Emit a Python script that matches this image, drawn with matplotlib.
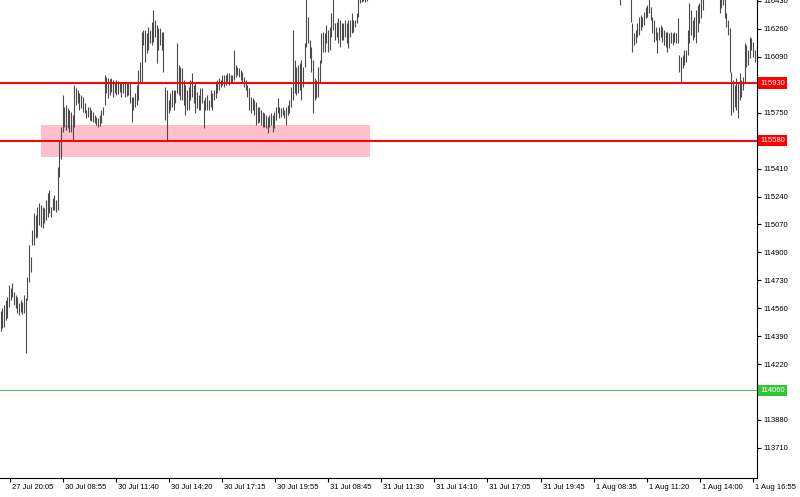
import numpy as np
import matplotlib.pyplot as plt
import matplotlib.transforms as mtransforms
from matplotlib.patches import Rectangle

plt.rcParams['font.family'] = ['Liberation Sans', 'DejaVu Sans']

# barras de 5 minutos: primer tramo (27 Jul - 31 Jul)
a_high = [114545, 114560, 114580, 114610, 114630, 114700, 114685, 114715, 114660, 114640,
          114630, 114590, 114610, 114600, 114640, 114625, 114750, 114945, 114870, 115035,
          115140, 115130, 115175, 115200, 115190, 115175, 115170, 115220, 115260, 115280,
          115175, 115230, 115250, 115220, 115420, 115585, 115665, 115860, 115785, 115795,
          115780, 115765, 115755, 115735, 115920, 115900, 115890, 115870, 115860, 115845,
          115810, 115765, 115785, 115785, 115765, 115755, 115735, 115725, 115720, 115735,
          115765, 115785, 115980, 115965, 115960, 115955, 115960, 115950, 115935, 115950,
          115945, 115935, 115935, 115935, 115935, 115930, 115935, 115930, 115845, 115845,
          115870, 115920, 116010, 116060, 116240, 116255, 116255, 116235, 116270, 116255,
          116300, 116375, 116315, 116285, 116265, 116265, 116240, 116240, 115905, 115890,
          115825, 115870, 115890, 115890, 115890, 116175, 116040, 116030, 116020, 115950,
          115920, 115890, 115905, 115950, 115990, 115920, 115930, 115875, 115860, 115900,
          115900, 115825, 115845, 115860, 115825, 115890, 115870, 115890, 115935, 115950,
          115960, 115950, 115980, 115980, 115980, 115990, 115990, 115980, 115980, 116130,
          116040, 116030, 116020, 116010, 116000, 115965, 115950, 115920, 115900, 115845,
          115840, 115825, 115815, 115785, 115785, 115765, 115755, 115750, 115735, 115725,
          115735, 115750, 115735, 115755, 115785, 115840, 115785, 115780, 115785, 115765,
          115785, 115795, 115825, 115905, 116255, 116070, 116030, 116040, 116055, 116070,
          116030, 116175, 116465, 116335, 116195, 116150, 116070, 115960, 115950, 116030,
          116070, 116235, 116240, 116235, 116285, 116255, 116270, 116355, 116465, 116295,
          116300, 116325, 116315, 116295, 116295, 116315, 116295, 116315, 116315, 116355,
          116315, 116315, 116355, 116465, 116495, 116495, 116495, 116495, 116495]
a_low = [114420, 114440, 114445, 114490, 114500, 114570, 114610, 114630, 114580, 114560,
         114530, 114520, 114535, 114525, 114530, 114290, 114610, 114720, 114780, 114945,
         114945, 114990, 114995, 115065, 115055, 115050, 115080, 115095, 115115, 115140,
         115115, 115160, 115160, 115145, 115160, 115360, 115470, 115635, 115665, 115645,
         115655, 115635, 115635, 115585, 115665, 115795, 115810, 115765, 115780, 115755,
         115750, 115720, 115725, 115705, 115700, 115695, 115690, 115675, 115665, 115670,
         115690, 115735, 115795, 115870, 115840, 115860, 115875, 115845, 115870, 115860,
         115865, 115875, 115845, 115870, 115845, 115850, 115860, 115810, 115695, 115765,
         115785, 115795, 115825, 115930, 115935, 116160, 116060, 116115, 116130, 116175,
         116160, 116180, 116210, 116055, 116130, 116160, 116130, 116000, 115705, 115585,
         115750, 115765, 115785, 115765, 115810, 115870, 115860, 115825, 115825, 115795,
         115735, 115765, 115765, 115825, 115845, 115810, 115750, 115780, 115765, 115765,
         115810, 115655, 115765, 115765, 115765, 115785, 115765, 115825, 115840, 115870,
         115890, 115905, 115920, 115905, 115920, 115930, 115920, 115930, 115935, 115950,
         115965, 115980, 115965, 115950, 115935, 115905, 115890, 115845, 115765, 115750,
         115765, 115735, 115675, 115690, 115695, 115675, 115665, 115665, 115655, 115625,
         115665, 115675, 115635, 115655, 115705, 115750, 115720, 115725, 115735, 115720,
         115675, 115735, 115750, 115785, 115825, 115870, 115860, 115870, 115890, 115825,
         115905, 116030, 116150, 116175, 116085, 116000, 115750, 115825, 115840, 115845,
         115930, 116055, 116120, 116120, 116175, 116120, 116130, 116210, 116255, 116195,
         116210, 116175, 116150, 116195, 116195, 116210, 116175, 116145, 116210, 116235,
         116240, 116270, 116295, 116335, 116420, 116425, 116430, 116425, 116430]

# segundo tramo (1 Aug), el precio intermedio queda por encima del grafico
b_start = 369
b_high = [116485, 116520, 116530, 116510, 116540, 116500, 116495, 116295, 116235, 116255,
          116295, 116335, 116345, 116335, 116365, 116395, 116405, 116465, 116395, 116335,
          116315, 116270, 116240, 116270, 116285, 116270, 116255, 116240, 116240, 116235,
          116240, 116235, 116240, 116235, 116325, 116100, 116090, 116100, 116130, 116130,
          116255, 116420, 116375, 116315, 116335, 116375, 116405, 116420, 116465, 116485,
          116540, 116560, 116580, 116570, 116590, 116560, 116575, 116550, 116530, 116465,
          116465, 116485, 116465, 116355, 116315, 116265, 116000, 115950, 115920, 115960,
          115930, 115990, 115950, 115965, 116175, 116160, 116130, 116210, 116205, 116180,
          116130]
b_low = [116405, 116450, 116460, 116445, 116470, 116440, 116300, 116120, 116160, 116175,
         116210, 116225, 116255, 116270, 116285, 116325, 116335, 116355, 116315, 116235,
         116180, 116195, 116115, 116195, 116210, 116180, 116160, 116150, 116120, 116145,
         116175, 116160, 116180, 116175, 116175, 116000, 115930, 116020, 116040, 116060,
         116100, 116175, 116225, 116195, 116210, 116175, 116240, 116295, 116325, 116375,
         116450, 116470, 116490, 116480, 116500, 116465, 116470, 116455, 116445, 116355,
         116385, 116405, 116325, 116270, 116225, 116000, 115735, 115755, 115785, 115765,
         115720, 115825, 115845, 115890, 115930, 116030, 116040, 116085, 116130, 116090,
         116060]

time_labels = ['27 Jul 20:05', '30 Jul 08:55', '30 Jul 11:40', '30 Jul 14:20', '30 Jul 17:15',
               '30 Jul 19:55', '31 Jul 08:45', '31 Jul 11:30', '31 Jul 14:10', '31 Jul 17:05',
               '31 Jul 19:45', '1 Aug 08:35', '1 Aug 11:20', '1 Aug 14:00', '1 Aug 16:55']
price_ticks = [116430, 116260, 116090, 115920, 115750, 115580, 115410, 115240, 115070,
               114900, 114730, 114560, 114390, 114220, 114050, 113880, 113710]

resistance = 115930
support = 115580
green_level = 114060
zone_top, zone_bottom = 115675, 115480
zone_from, zone_to = 24, 220

fig = plt.figure(figsize=(8, 4.97), dpi=100)
ax = fig.add_axes([0, 19 / 497, 757 / 800, 478 / 497])

xa = np.arange(len(a_high))
xb = b_start + np.arange(len(b_high))
ax.vlines(xa, a_low, a_high, color='#4a4a4a', lw=0.8, zorder=2)
ax.vlines(xb, b_low, b_high, color='#4a4a4a', lw=0.8, zorder=2)

ax.add_patch(Rectangle((zone_from, zone_bottom), zone_to - zone_from, zone_top - zone_bottom,
                       facecolor='#ffc0cb', edgecolor='none', zorder=0))

ax.axhline(resistance, color='red', lw=1.4, zorder=3)
ax.axhline(support, color='red', lw=1.4, zorder=3)
ax.axhline(green_level, color='#5cbf5c', lw=0.8, zorder=3)

ax.set_xlim(-0.3, 757 / 1.68 - 0.3)
ax.set_ylim(113527, 116436)

# las etiquetas de nivel tapan las marcas normales que caen junto a ellas
levels = [resistance, support, green_level]
ylabels = ['' if min(abs(p - v) for v in levels) < 30 else str(p) for p in price_ticks]
ax.yaxis.tick_right()
ax.set_yticks(price_ticks)
ax.set_yticklabels(ylabels)
ax.tick_params(axis='y', length=3, width=0.8, pad=1.5, labelsize=5.5)

xt = 5.65 + 31.58 * np.arange(len(time_labels))
ax.set_xticks(xt)
ax.set_xticklabels(time_labels)
ax.tick_params(axis='x', length=3, width=0.8, pad=1.5, labelsize=5.5)
shift = mtransforms.ScaledTranslation(0.02, 0, fig.dpi_scale_trans)
for lab in ax.get_xticklabels():
    lab.set_horizontalalignment('left')
    lab.set_transform(lab.get_transform() + shift)

for side in ['left', 'top']:
    ax.spines[side].set_visible(False)
for side in ['right', 'bottom']:
    ax.spines[side].set_linewidth(0.8)

# etiquetas de nivel sobre el eje de precios
tr = ax.get_yaxis_transform()
for val, col in [(resistance, 'red'), (support, 'red'), (green_level, '#33c633')]:
    ax.text(1.004, val, str(val), transform=tr, ha='left', va='center', fontsize=5.5,
            color='white', zorder=5, clip_on=False,
            bbox=dict(boxstyle='square,pad=0.3', facecolor=col, edgecolor='none'))

fig.savefig('out.png', dpi=100)
